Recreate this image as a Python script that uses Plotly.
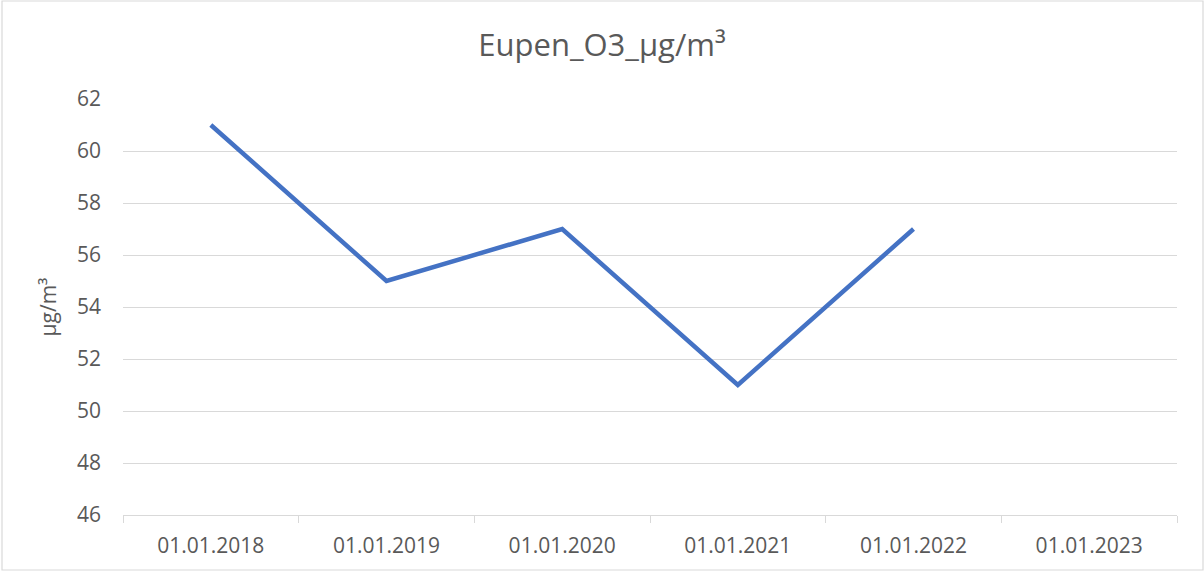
import plotly.graph_objects as go

categories = ["01.01.2018", "01.01.2019", "01.01.2020", "01.01.2021", "01.01.2022", "01.01.2023"]
values = [61, 55, 57, 51, 57, None]
y_ticks = [46, 48, 50, 52, 54, 56, 58, 60, 62]

W, H = 1204, 571
L, R, T, B = 123, 27, 99, 56

fig = go.Figure()
fig.add_trace(go.Scatter(
    x=categories, y=values, mode="lines",
    line=dict(color="#4472C4", width=4.5),
    connectgaps=False, hoverinfo="x+y",
))

pw = W - L - R
ph = H - T - B
fig.add_shape(type="rect", xref="paper", yref="paper",
              x0=(-L + 2) / pw, x1=(pw + R - 1) / pw,
              y0=(-B + 1) / ph, y1=(ph + T - 1) / ph,
              line=dict(color="#D9D9D9", width=1.2), fillcolor="rgba(0,0,0,0)", layer="below")

fig.update_layout(
    width=W, height=H,
    margin=dict(l=L, r=R, t=T, b=B),
    paper_bgcolor="white", plot_bgcolor="white",
    font=dict(family="Open Sans, Liberation Sans, sans-serif", color="#595959", size=21),
    title=dict(text="Eupen_O3_µg/m³", x=0.5, xanchor="center", y=1 - 45 / H, yanchor="middle",
               font=dict(size=31, color="#595959")),
    showlegend=False,
    xaxis=dict(
        type="category", categoryorder="array", categoryarray=categories,
        range=[-0.5, len(categories) - 0.5],
        tickson="boundaries", ticks="outside", ticklen=7, tickcolor="#D9D9D9", tickwidth=1.2,
        showgrid=False, showline=True, linecolor="#D9D9D9", linewidth=1.2,
        ticklabelstandoff=12,
        tickfont=dict(size=21, color="#595959"), zeroline=False,
    ),
    yaxis=dict(
        range=[46, 62], tickvals=y_ticks, ticktext=[str(v) for v in y_ticks],
        showgrid=True, gridcolor="#D9D9D9", gridwidth=1.2, zeroline=False,
        showline=False, ticks="", ticklabelstandoff=21,
        tickfont=dict(size=21, color="#595959"),
        title=dict(text="µg/m³", font=dict(size=21, color="#595959"), standoff=14),
    ),
)

fig.write_html("out.html", config={"displayModeBar": False},
               post_script="document.body.style.margin='0';document.body.style.overflow='hidden';")
